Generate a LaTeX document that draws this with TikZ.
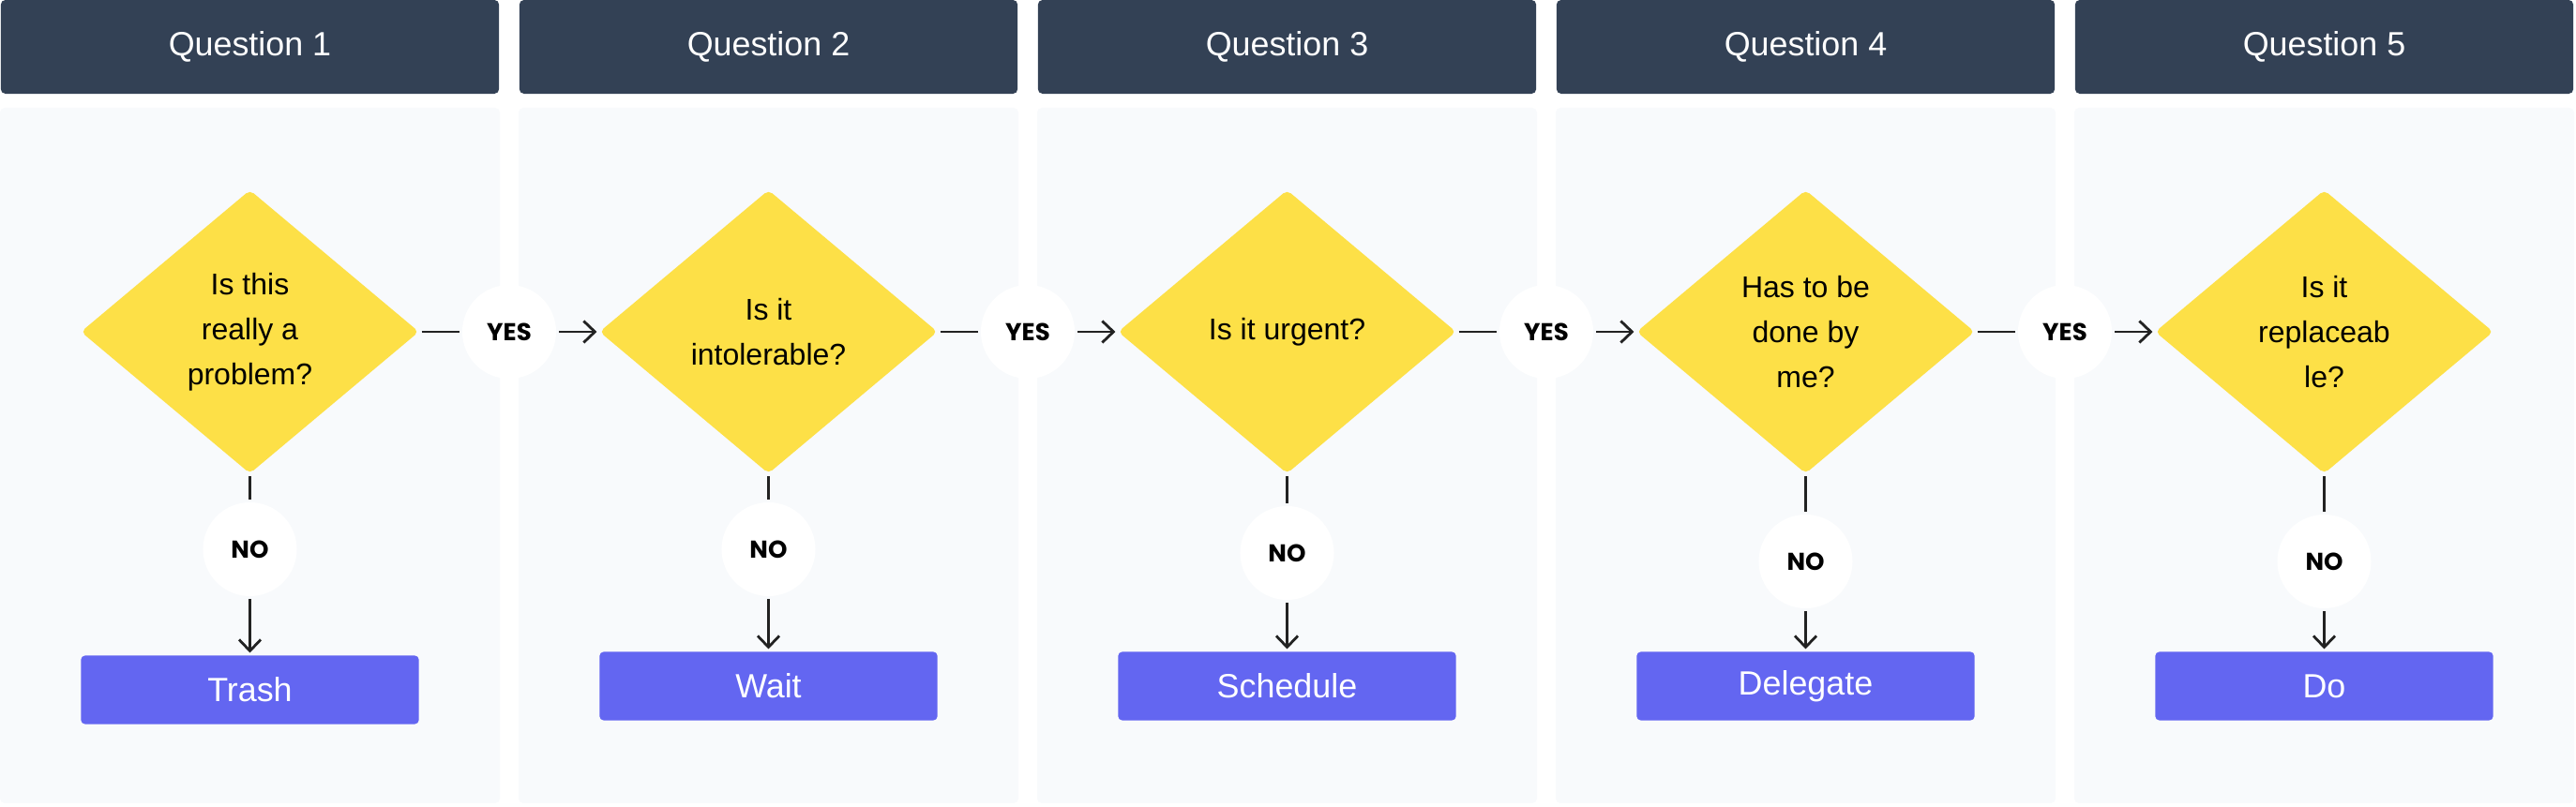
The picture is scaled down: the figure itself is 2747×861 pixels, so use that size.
\documentclass[tikz,border=0pt]{standalone}
\usepackage{fontspec}
\setmainfont{Liberation Sans}
\newfontfamily\yesnofont{Poppins}
\usetikzlibrary{shapes.geometric,arrows.meta}
\definecolor{headbg}{HTML}{334155}
\definecolor{panelbg}{HTML}{F8FAFC}
\definecolor{askyellow}{HTML}{FDE047}
\definecolor{actblue}{HTML}{6366F1}
\definecolor{linegray}{HTML}{222222}
\tikzset{
    head/.style={fill=headbg, rounded corners=1.4pt, minimum width=5.31cm, minimum height=1cm, inner sep=0pt, text=white, font=\fontsize{10.2}{12}\selectfont},
    ask/.style={diamond, fill=askyellow, rounded corners=1.5pt, minimum width=3.6cm, minimum height=3.02cm, inner sep=0pt, outer sep=0pt, align=center, font=\fontsize{9.1}{13.66}\selectfont},
    answer/.style={circle, fill=white, minimum size=1cm, inner sep=0pt, outer sep=0pt, font=\yesnofont\bfseries\fontsize{7.4}{9}\selectfont},
    act/.style={fill=actblue, rounded corners=1.2pt, minimum width=3.6cm, minimum height=0.73cm, inner sep=0pt, outer sep=0pt, text=white, font=\fontsize{10.2}{12}\selectfont},
    link/.style={draw=linegray, line width=0.8pt, shorten <=0.85pt, shorten >=0.85pt},
    linkto/.style={link, -{Straight Barb[length=1.2mm, width=2.3mm]}}
}
\begin{document}
\begin{tikzpicture}[x=0.01cm, y=-0.01cm]
\useasboundingbox (0,0) rectangle (2747,861);
\foreach \i/\q/\act/\ny/\by in {1/{Is this\\really a\\problem?}/Trash/586/736, 2/{Is it\\intolerable?}/Wait/586/732, 3/{Is it urgent?}/Schedule/590/732, 4/{Has to be\\done by\\me?}/Delegate/599/732, 5/{Is it\\replaceab\\le?}/Do/599/732} {
    \pgfmathsetmacro\cx{266.5+553*(\i-1)}
    \fill[panelbg, rounded corners=1.4pt] (\cx-266.5,115) rectangle (\cx+266.5,857);
    \node[head] (head\i) at (\cx,50) {Question \i};
    \node[ask] (ask\i) at (\cx,354) {\q};
    \node[answer] (no\i) at (\cx,\ny) {NO};
    \node[act] (act\i) at (\cx,\by) {\act};
    \draw[link] (ask\i) -- (no\i);
    \draw[linkto] (no\i) -- (act\i);
}
\foreach \i in {1,...,4} {
    \pgfmathtruncatemacro\j{\i+1}
    \node[answer] (yes\i) at ({543+553*(\i-1)},354) {YES};
    \draw[link] (ask\i) -- (yes\i);
    \draw[linkto] (yes\i) -- (ask\j);
}
\end{tikzpicture}
\end{document}
